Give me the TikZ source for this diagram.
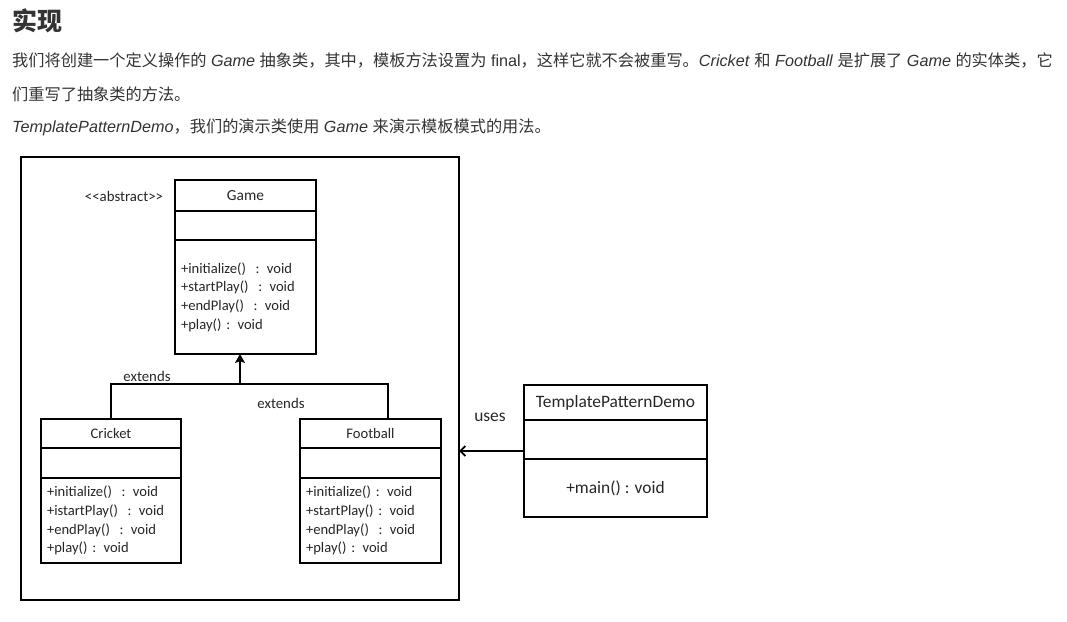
\documentclass[tikz,border=0pt]{standalone}
\usepackage{fontspec}
\setmainfont{Liberation Sans}
\newfontfamily\cjk{Noto Sans CJK SC}
\newfontfamily\umlfont{Carlito}
\usetikzlibrary{positioning,arrows.meta}
\newcommand\zh[1]{{\cjk #1}}

\begin{document}
\begin{tikzpicture}[x=1pt,y=-1pt,
  txt/.style={anchor=west, inner sep=0pt, text=black!80, font=\fontsize{16.2}{19}\selectfont},
  cls/.style={draw, line width=1.5pt, outer sep=0pt, inner sep=0pt, text=black!85, font=\umlfont\fontsize{14.6}{18.7}\selectfont},
  ops/.style={cls, align=left, inner xsep=6pt},
  big/.style={font=\umlfont\fontsize{17.4}{20}\selectfont},
  lbl/.style={inner sep=0pt, text=black!85, font=\umlfont\fontsize{14.8}{16}\selectfont},
  link/.style={line width=2pt},
]
\useasboundingbox (0,0) rectangle (1067,621);

\node[txt, font=\cjk\bfseries\fontsize{25}{30}\selectfont] (title) at (12,21) {实现};
\node[txt] (line1) at (12,61) {\zh{我们将创建一个定义操作的} \textit{Game} \zh{抽象类，其中，模板方法设置为} final\zh{，这样它就不会被重写。}\textit{Cricket} \zh{和} \textit{Football} \zh{是扩展了} \textit{Game} \zh{的实体类，它}};
\node[txt] (line2) at (12,94) {\zh{们重写了抽象类的方法。}};
\node[txt] (line3) at (12,127) {\textit{TemplatePatternDemo}\zh{，我们的演示类使用} \textit{Game} \zh{来演示模板模式的用法。}};

\node[draw, line width=1.6pt, outer sep=0pt, minimum width=438pt, minimum height=443pt] (frame) at (240,378.5) {};

\node[cls, minimum width=141pt, minimum height=31pt, font=\umlfont\fontsize{15.4}{18}\selectfont] (gameHead) at (245.5,195.5) {Game};
\node[cls, minimum width=141pt, minimum height=29pt, below=0pt of gameHead] (gameAttr) {};
\node[ops, text width=129pt, minimum height=114pt, below=0pt of gameAttr] (gameOps) {+initialize()\ \ : void\\+startPlay()\ \ : void\\+endPlay()\ \ : void\\+play() : void};
\node[lbl] (abstractLbl) at (124,196) {{<}{<}abstract{>}{>}};

\node[cls, minimum width=140pt, minimum height=29pt] (cricketHead) at (111,433.5) {Cricket};
\node[cls, minimum width=140pt, minimum height=30pt, below=0pt of cricketHead] (cricketAttr) {};
\node[ops, text width=128pt, minimum height=85pt, below=0pt of cricketAttr] (cricketOps) {+initialize()\ \ : void\\+istartPlay()\ \ : void\\+endPlay()\ \ : void\\+play() : void};

\node[cls, minimum width=141pt, minimum height=29pt] (footballHead) at (370.5,433.5) {Football};
\node[cls, minimum width=141pt, minimum height=30pt, below=0pt of footballHead] (footballAttr) {};
\node[ops, text width=129pt, minimum height=85pt, below=0pt of footballAttr] (footballOps) {+initialize() : void\\+startPlay() : void\\+endPlay()\ \ : void\\+play() : void};

\node[cls, big, minimum width=183pt, minimum height=35pt] (demoHead) at (615.5,402.5) {TemplatePatternDemo};
\node[cls, minimum width=183pt, minimum height=39pt, below=0pt of demoHead] (demoAttr) {};
\node[cls, big, minimum width=183pt, minimum height=58pt, below=0pt of demoAttr] (demoOps) {+main() : void};

\coordinate (bus) at (240,384);
\coordinate (footballJoin) at (388,419);
\coordinate (usesFrom) at (524,451);
\draw[link] (cricketHead.north) |- (bus) -| (footballJoin);
\draw[link, line width=2.8pt, -{Stealth[length=9pt,width=10pt,inset=2pt]}] (bus) -- (bus |- gameOps.south);
\draw[link, line width=1.8pt, -{Straight Barb[length=5pt,width=10pt]}] (usesFrom) -- (usesFrom -| frame.east);

\node[lbl] (extendsLeft) at (147,376) {extends};
\node[lbl] (extendsRight) at (281,403) {extends};
\node[lbl, big] (usesLbl) at (490,417) {uses};
\end{tikzpicture}
\end{document}
